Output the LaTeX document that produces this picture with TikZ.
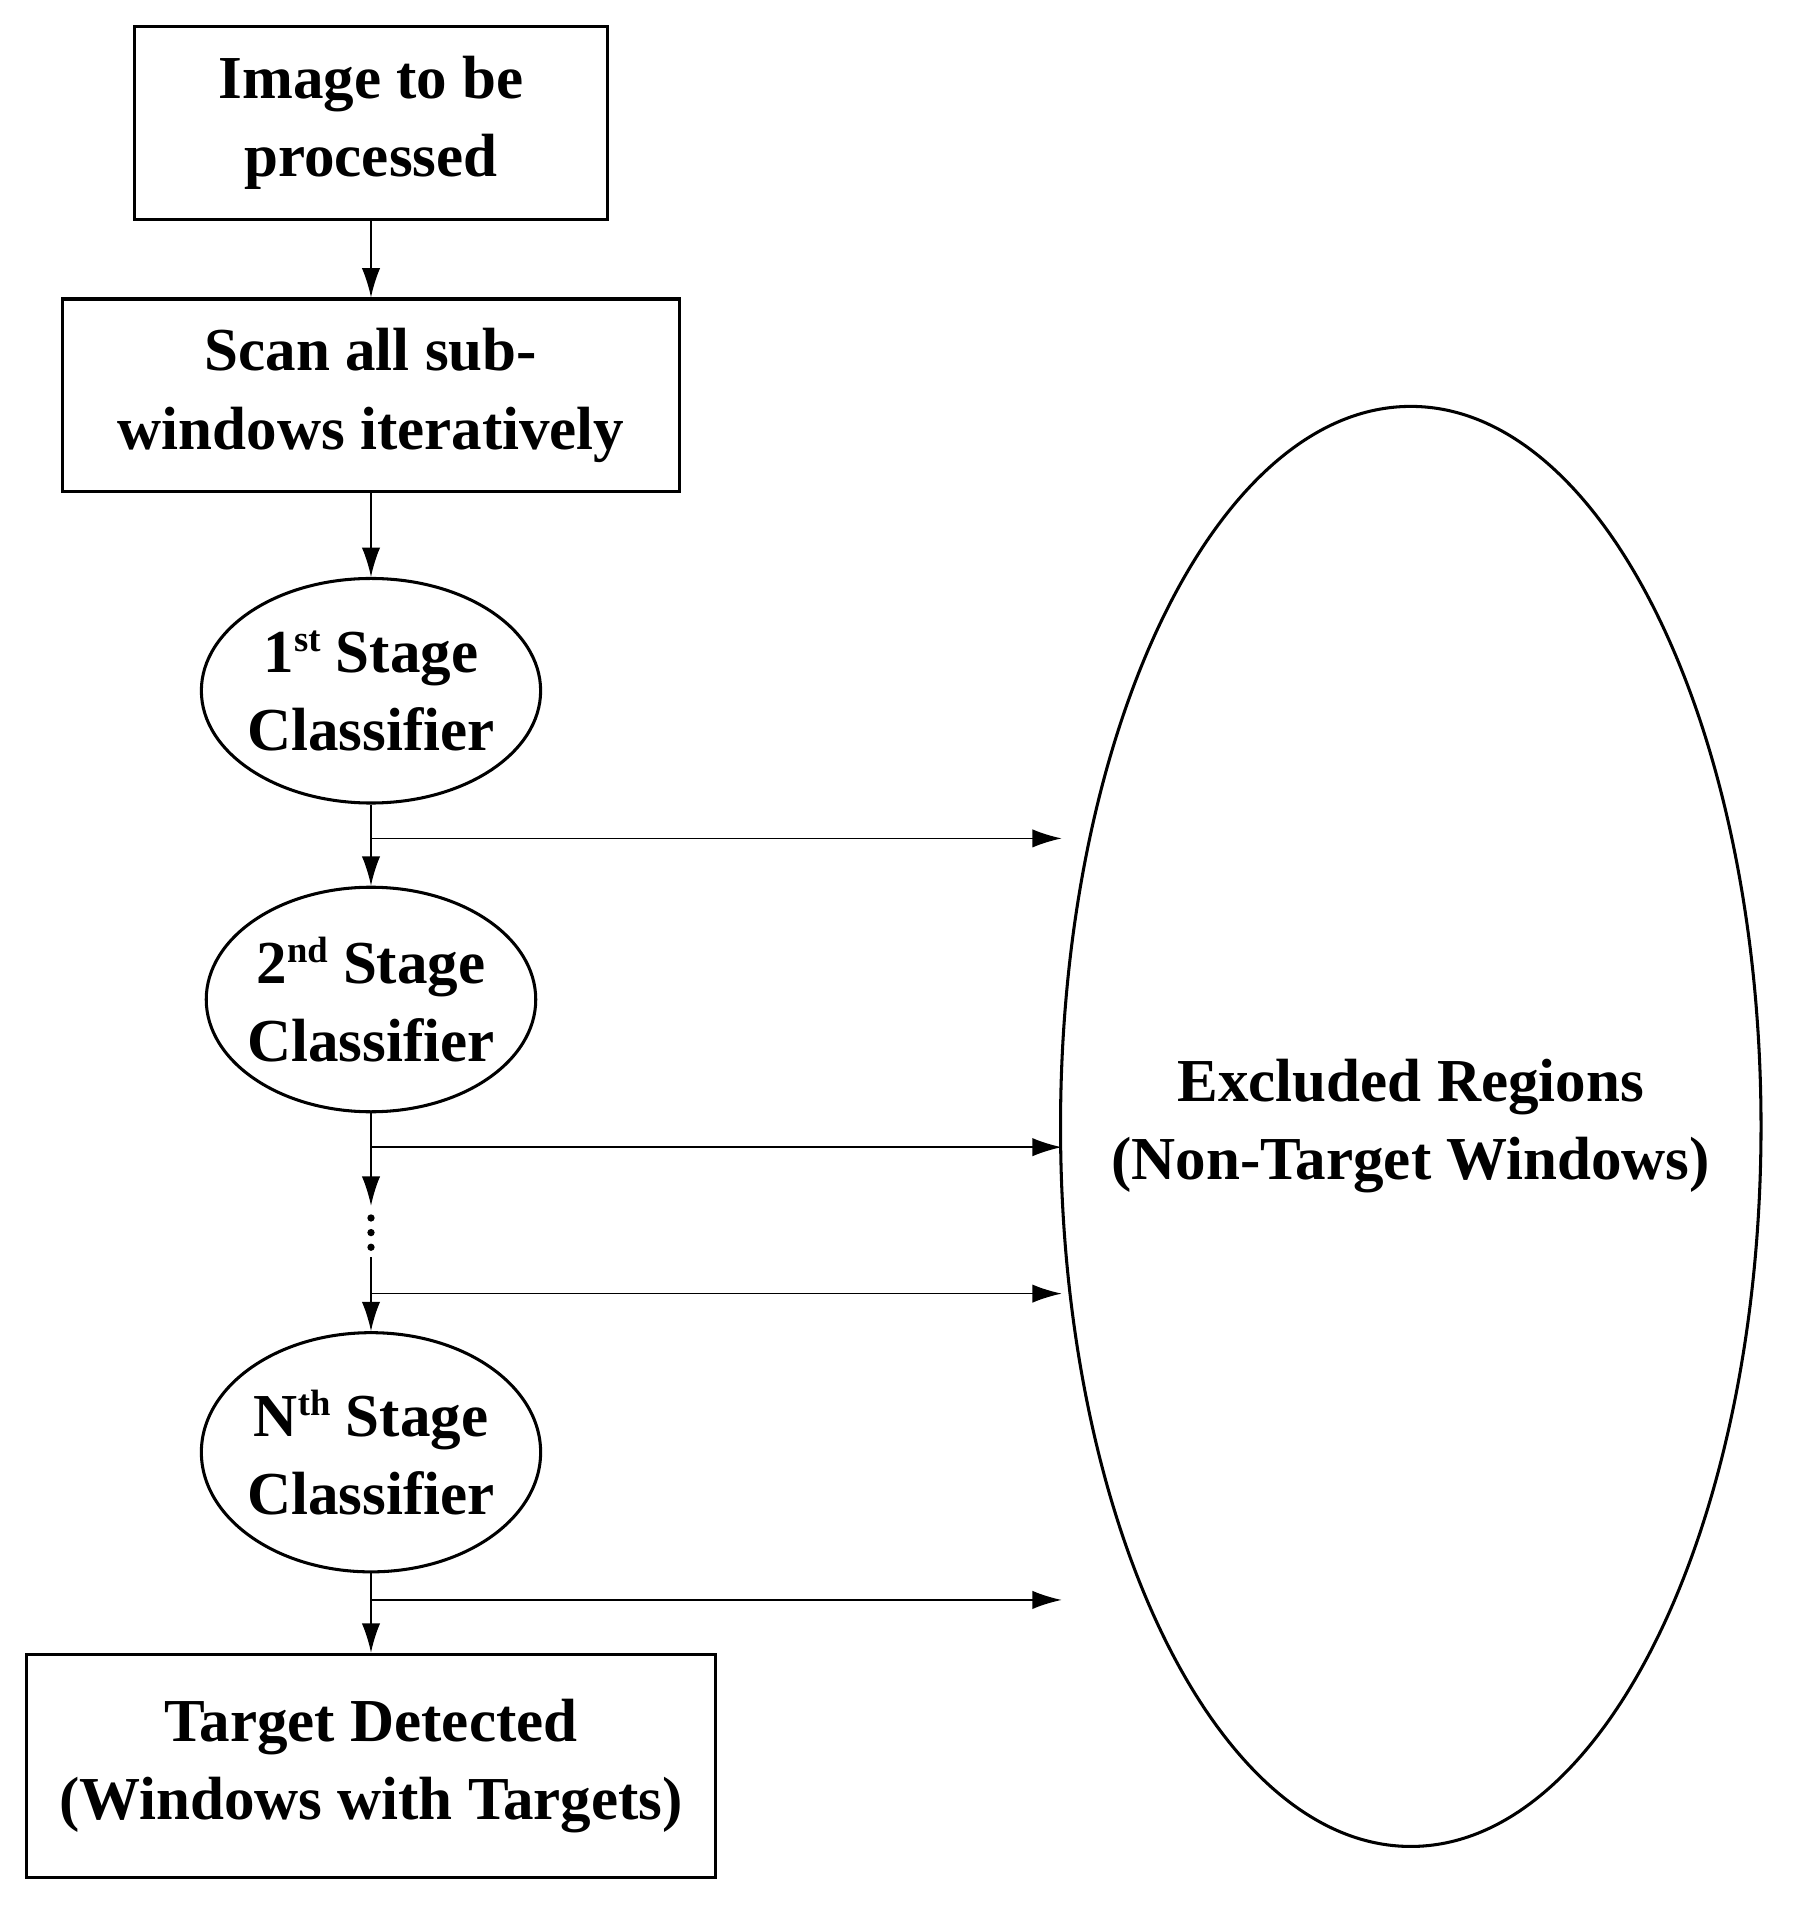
\documentclass[tikz,border=0pt]{standalone}
\usepackage{fontspec}
\setmainfont{Liberation Serif}
\usetikzlibrary{shapes.geometric,arrows.meta}
\newcommand{\sps}[1]{\raisebox{0.75ex}{\fontsize{30}{30}\selectfont #1}}
\begin{document}
\begin{tikzpicture}[x=1pt,y=-1pt,
  txt/.style={font=\fontsize{50}{64}\selectfont\bfseries,align=center},
  box/.style={draw,line width=2.5pt,inner sep=0pt},
  ell/.style={draw,ellipse,line width=2.5pt,inner sep=0pt},
  arr/.style={line width=1.3pt,-{Latex[length=24pt,width=15pt]}}]
\useasboundingbox (0,0) rectangle (1470,1570);
\node[box,txt,minimum width=388pt,minimum height=158pt] (img) at (304,101) {Image to be\\processed};
\node[box,txt,minimum width=506pt,minimum height=158pt] (scan) at (304,324) {Scan all sub-\\windows iteratively};
\node[ell,minimum width=278pt,minimum height=184pt] (s1) at (304,566) {};
\node[txt] at (s1) {1\sps{st} Stage\\Classifier};
\node[ell,minimum width=270pt,minimum height=184pt] (s2) at (304,819) {};
\node[txt] at (s2) {2\sps{nd} Stage\\Classifier};
\node[ell,minimum width=278pt,minimum height=196pt] (sn) at (304,1190) {};
\node[txt] at (sn) {N\sps{th} Stage\\Classifier};
\node[box,txt,minimum width=564pt,minimum height=183pt] (tgt) at (304,1447) {Target Detected\\(Windows with Targets)};
\node[ell,minimum width=574pt,minimum height=1180pt] (exc) at (1156,923) {};
\node[txt] at (1156,923) {Excluded Regions\\(Non-Target Windows)};
\foreach \yy in {998,1010,1022} \fill (304,\yy) circle (3pt);
\coordinate (b1) at (304,687); \coordinate (e1) at (870,687);
\coordinate (b2) at (304,940); \coordinate (e2) at (870,940);
\coordinate (b3) at (304,1060); \coordinate (e3) at (870,1060);
\coordinate (b4) at (304,1311); \coordinate (e4) at (870,1311);
\coordinate (d1) at (304,988); \coordinate (d2) at (304,1030);
\draw[arr] (img) -- (scan);
\draw[arr] (scan) -- (s1);
\draw[arr] (s1) -- (s2);
\draw[arr] (s2) -- (d1);
\draw[arr] (d2) -- (sn);
\draw[arr] (sn) -- (tgt);
\draw[arr] (b1) -- (e1);
\draw[arr] (b2) -- (e2);
\draw[arr] (b3) -- (e3);
\draw[arr] (b4) -- (e4);
\end{tikzpicture}
\end{document}
